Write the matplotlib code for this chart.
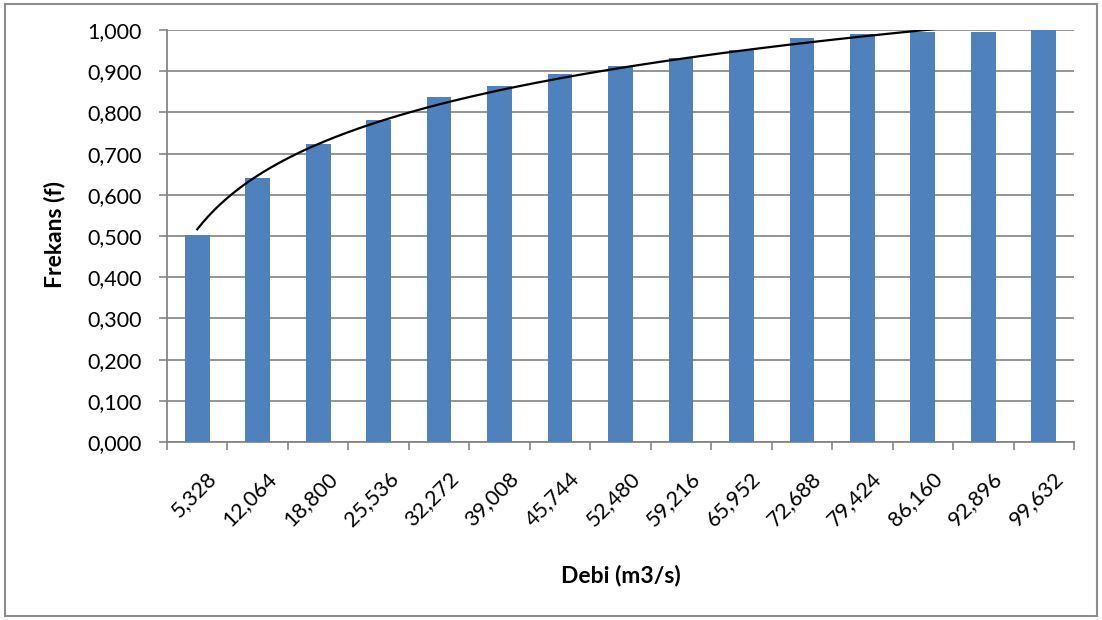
import numpy as np
import matplotlib.pyplot as plt
from matplotlib.patches import Rectangle
from matplotlib.transforms import ScaledTranslation

# class midpoints (m3/s) and cumulative frequency
debi = ["5,328", "12,064", "18,800", "25,536", "32,272", "39,008", "45,744", "52,480",
        "59,216", "65,952", "72,688", "79,424", "86,160", "92,896", "99,632"]
frekans = [0.502, 0.641, 0.723, 0.782, 0.837, 0.864, 0.893, 0.913,
           0.932, 0.951, 0.981, 0.990, 0.995, 0.995, 1.000]

plt.rcParams['font.family'] = ['Lato', 'DejaVu Sans']

fig = plt.figure(figsize=(11.02, 6.2), dpi=100)
ax = fig.add_axes([167/1102, 1-442/620, 907/1102, 412/620])

x = np.arange(1, len(debi)+1)
ax.bar(x, frekans, width=0.41, color='#4f81bd', zorder=3)

# logarithmic trendline like excel
a, b = np.polyfit(np.log(x), frekans, 1)
xt = np.linspace(1, len(debi), 300)
ax.plot(xt, a*np.log(xt)+b, color='black', lw=1.6, zorder=4)

ax.set_xlim(0.5, len(debi)+0.5)
ax.set_ylim(0, 1)
yt = np.arange(0, 1.01, 0.1)
ax.set_yticks(yt)
ax.set_yticklabels([("%.3f" % v).replace('.', ',') for v in yt], fontsize=15.5)
ax.set_xticks(x)
ax.set_xticklabels(debi, rotation=45, ha='right', rotation_mode='anchor', fontsize=15.5)
ax.set_xticks(np.arange(0.5, len(debi)+1, 1), minor=True)
ax.tick_params(axis='x', which='major', length=0, pad=19)
ax.tick_params(axis='x', which='minor', length=6, color='#868686', width=1.2)
ax.tick_params(axis='y', length=6, color='#868686', width=1.2, pad=12)
off = ScaledTranslation(9/100, 0, fig.dpi_scale_trans)
for lab in ax.get_xticklabels():
    lab.set_transform(lab.get_transform() + off)

ax.grid(axis='y', color='#8c8c8c', lw=1.3, zorder=0)
for s in ['top', 'right']:
    ax.spines[s].set_visible(False)
for s in ['left', 'bottom']:
    ax.spines[s].set_color('#868686')
    ax.spines[s].set_linewidth(1.3)

fig.text(55/1102, 1-235/620, 'Frekans (f)', fontsize=16.5, fontweight='bold',
         rotation=90, ha='center', va='center')
fig.text(621/1102, 1-576/620, 'Debi (m3/s)', fontsize=16.5, fontweight='bold',
         ha='center', va='center')

fig.patches.append(Rectangle((5/1102, 4/620), 1092/1102, 612/620, transform=fig.transFigure,
                             fill=False, edgecolor='#8c8c8c', lw=1.5))

fig.savefig('out.png', dpi=100)
